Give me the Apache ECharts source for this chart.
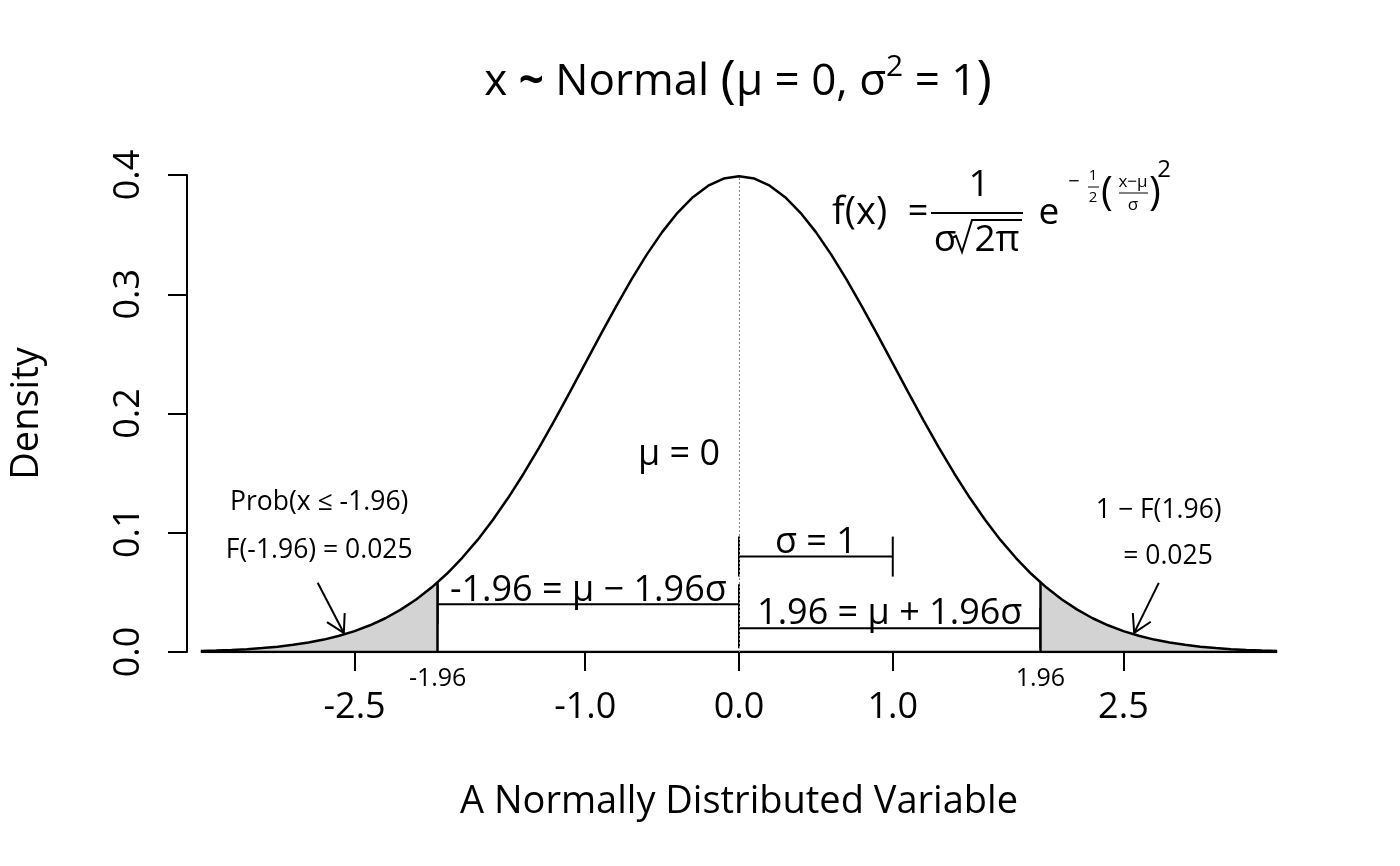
<!DOCTYPE html>
<html>
<head>
  <meta charset="utf-8">
</head>
<body style="margin: 0; background: #fff">
  <div id="container" style="width: 1400px; height: 866px"></div>

  <script type="text/javascript" src="https://cdn.jsdelivr.net/npm/echarts@6/dist/echarts.min.js"></script>
  <script type="text/javascript">
    // curve, x step 0.1
    var xValues = [
      -3.5, -3.4, -3.3, -3.2, -3.1, -3.0, -2.9, -2.8, -2.7, -2.6,
      -2.5, -2.4, -2.3, -2.2, -2.1, -2.0, -1.9, -1.8, -1.7, -1.6,
      -1.5, -1.4, -1.3, -1.2, -1.1, -1.0, -0.9, -0.8, -0.7, -0.6,
      -0.5, -0.4, -0.3, -0.2, -0.1, 0.0, 0.1, 0.2, 0.3, 0.4,
      0.5, 0.6, 0.7, 0.8, 0.9, 1.0, 1.1, 1.2, 1.3, 1.4,
      1.5, 1.6, 1.7, 1.8, 1.9, 2.0, 2.1, 2.2, 2.3, 2.4,
      2.5, 2.6, 2.7, 2.8, 2.9, 3.0, 3.1, 3.2, 3.3, 3.4, 3.5
    ];
    var densityValues = [
      0.0009, 0.0012, 0.0017, 0.0024, 0.0033, 0.0044, 0.0060, 0.0079, 0.0104, 0.0136,
      0.0175, 0.0224, 0.0283, 0.0355, 0.0440, 0.0540, 0.0656, 0.0790, 0.0940, 0.1109,
      0.1295, 0.1497, 0.1714, 0.1942, 0.2179, 0.2420, 0.2661, 0.2897, 0.3123, 0.3332,
      0.3521, 0.3683, 0.3814, 0.3910, 0.3970, 0.3989, 0.3970, 0.3910, 0.3814, 0.3683,
      0.3521, 0.3332, 0.3123, 0.2897, 0.2661, 0.2420, 0.2179, 0.1942, 0.1714, 0.1497,
      0.1295, 0.1109, 0.0940, 0.0790, 0.0656, 0.0540, 0.0440, 0.0355, 0.0283, 0.0224,
      0.0175, 0.0136, 0.0104, 0.0079, 0.0060, 0.0044, 0.0033, 0.0024, 0.0017, 0.0012, 0.0009
    ];
    var critX = [-1.96, 1.96];
    var critDensity = 0.0584;
    var peakDensity = 0.3989;

    var xTickValues = [-2.5, -1.0, 0.0, 1.0, 2.5];
    var xMinorLabels = [-1.96, 1.96];

    // brackets: [from, to, height]
    var brackets = [[0, 1, 0.08], [-1.96, 0, 0.04], [0, 1.96, 0.02]];
    var bracketLabels = ['σ = 1', '-1.96 = μ − 1.96σ', '1.96 = μ + 1.96σ'];

    // arrows: [x0, y0, x1, y1]
    var arrows = [[-2.74, 0.058, -2.57, 0.016], [2.73, 0.058, 2.57, 0.016]];

    // notes: [x, y, text, fontSize]
    var notes = [
      [-0.39, 0.165, 'μ = 0', 36],
      [-2.73, 0.125, 'Prob(x ≤ -1.96)', 26.5],
      [-2.73, 0.085, 'F(-1.96) = 0.025', 26.5],
      [2.73, 0.119, '1 − F(1.96)', 26.5],
      [2.79, 0.080, '= 0.025', 26.5]
    ];

    var FONT = '"Open Sans", "DejaVu Sans", sans-serif';

    var curve = xValues.map(function (x, i) { return [x, densityValues[i]]; });
    var leftTail = curve.filter(function (p) { return p[0] <= critX[0]; });
    leftTail.push([critX[0], critDensity]);
    var rightTail = [[critX[1], critDensity]].concat(curve.filter(function (p) { return p[0] >= critX[1]; }));

    var dom = document.getElementById('container');
    var myChart = echarts.init(dom, null, { renderer: 'canvas' });

    function renderBracket(params, api) {
      var a = api.coord([api.value(0), api.value(2)]);
      var b = api.coord([api.value(1), api.value(2)]);
      var h = 20;
      var st = { stroke: '#000', lineWidth: 2 };
      return {
        type: 'group',
        children: [
          { type: 'line', shape: { x1: a[0], y1: a[1], x2: b[0], y2: b[1] }, style: st },
          { type: 'line', shape: { x1: a[0], y1: a[1] - h, x2: a[0], y2: a[1] + h }, style: st },
          { type: 'line', shape: { x1: b[0], y1: b[1] - h, x2: b[0], y2: b[1] + h }, style: st },
          {
            type: 'text',
            style: {
              text: bracketLabels[params.dataIndex],
              x: (a[0] + b[0]) / 2, y: a[1] - 14,
              align: 'center', verticalAlign: 'middle',
              fontSize: 36, fontFamily: FONT, fill: '#000'
            }
          }
        ]
      };
    }

    function renderArrow(params, api) {
      var p0 = api.coord([api.value(0), api.value(1)]);
      var p1 = api.coord([api.value(2), api.value(3)]);
      var ang = Math.atan2(p1[1] - p0[1], p1[0] - p0[0]);
      var len = 20, spread = Math.PI / 6;
      var h1 = [p1[0] - len * Math.cos(ang - spread), p1[1] - len * Math.sin(ang - spread)];
      var h2 = [p1[0] - len * Math.cos(ang + spread), p1[1] - len * Math.sin(ang + spread)];
      var st = { stroke: '#000', lineWidth: 2, fill: null };
      return {
        type: 'group',
        children: [
          { type: 'line', shape: { x1: p0[0], y1: p0[1], x2: p1[0], y2: p1[1] }, style: st },
          { type: 'polyline', shape: { points: [h1, p1, h2] }, style: st }
        ]
      };
    }

    var option = {
      animation: false,
      backgroundColor: '#fff',
      textStyle: { fontFamily: FONT },
      grid: { left: 185, right: 109, top: 175, bottom: 214 },
      xAxis: [
        {
          type: 'value',
          min: -3.59,
          max: 3.59,
          position: 'bottom',
          name: 'A Normally Distributed Variable',
          nameLocation: 'middle',
          nameGap: 131,
          nameTextStyle: { fontSize: 38, color: '#000', fontFamily: FONT },
          axisLine: { show: false },
          splitLine: { show: false },
          axisTick: {
            show: true,
            customValues: xTickValues,
            length: 19,
            lineStyle: { color: '#000', width: 2 }
          },
          axisLabel: {
            customValues: xTickValues,
            formatter: function (v) { return v.toFixed(1); },
            fontSize: 36,
            margin: 38,
            color: '#000',
            fontFamily: FONT
          }
        },
        {
          type: 'value',
          min: -3.59,
          max: 3.59,
          position: 'bottom',
          axisLine: { show: false },
          splitLine: { show: false },
          axisTick: { show: false },
          axisLabel: {
            customValues: xMinorLabels,
            formatter: function (v) { return v.toFixed(2); },
            fontSize: 25,
            margin: 14,
            color: '#000',
            fontFamily: FONT
          }
        }
      ],
      yAxis: {
        type: 'value',
        min: 0,
        max: 0.4,
        interval: 0.1,
        name: 'Density',
        nameLocation: 'middle',
        nameGap: 141,
        nameRotate: 90,
        nameTextStyle: { fontSize: 38, color: '#000', fontFamily: FONT },
        splitLine: { show: false },
        axisLine: { show: true, onZero: false, lineStyle: { color: '#000', width: 2 } },
        axisTick: { show: true, length: 19, lineStyle: { color: '#000', width: 2 } },
        axisLabel: {
          rotate: 90,
          formatter: function (v) { return v.toFixed(1); },
          fontSize: 36,
          margin: 40,
          color: '#000',
          fontFamily: FONT
        }
      },
      series: [
        {
          type: 'line', data: leftTail, symbol: 'none', silent: true,
          lineStyle: { width: 0 }, areaStyle: { color: '#d3d3d3', opacity: 1 }
        },
        {
          type: 'line', data: rightTail, symbol: 'none', silent: true,
          lineStyle: { width: 0 }, areaStyle: { color: '#d3d3d3', opacity: 1 }
        },
        {
          type: 'line',
          data: curve,
          symbol: 'none',
          silent: true,
          lineStyle: { color: '#000', width: 2.5 },
          markLine: {
            silent: true,
            symbol: 'none',
            label: { show: false },
            data: [
              [{ coord: [0, 0], lineStyle: { color: '#888', width: 1, type: [2, 2] } }, { coord: [0, peakDensity] }],
              [{ coord: [critX[0], 0], lineStyle: { color: '#000', width: 2.5, type: 'solid' } }, { coord: [critX[0], critDensity] }],
              [{ coord: [critX[1], 0], lineStyle: { color: '#000', width: 2.5, type: 'solid' } }, { coord: [critX[1], critDensity] }]
            ]
          }
        },
        {
          type: 'line',
          data: [[xValues[0], 0], [xValues[xValues.length - 1], 0]],
          symbol: 'none',
          silent: true,
          lineStyle: { color: '#000', width: 2.5 }
        },
        {
          type: 'custom',
          data: brackets,
          encode: { x: [0, 1], y: 2 },
          renderItem: renderBracket,
          silent: true
        },
        {
          type: 'custom',
          data: arrows,
          encode: { x: [0, 2], y: [1, 3] },
          renderItem: renderArrow,
          silent: true
        }
      ]
    };
    myChart.setOption(option);

    // text notes anchored to data coordinates
    var graphics = notes.map(function (n) {
      var p = myChart.convertToPixel({ gridIndex: 0 }, [n[0], n[1]]);
      return {
        type: 'text', x: p[0], y: p[1], silent: true,
        style: { text: n[2], align: 'center', verticalAlign: 'middle', fontSize: n[3], fontFamily: FONT, fill: '#000' }
      };
    });

    // title
    graphics.push({
      type: 'text', x: 738, y: 82, silent: true,
      style: {
        text: '{m|x }{t|~}{m| Normal }{p|(}{m|μ = 0, σ}{s|2}{m| = 1}{p|)}',
        align: 'center', verticalAlign: 'middle',
        rich: {
          m: { fontSize: 44, fontFamily: FONT, fill: '#000', lineHeight: 60 },
          t: { fontSize: 44, fontFamily: FONT, fontWeight: 'bold', fill: '#000', lineHeight: 60 },
          p: { fontSize: 52, fontFamily: FONT, fill: '#000', lineHeight: 60 },
          s: { fontSize: 30, fontFamily: FONT, fill: '#000', lineHeight: 30, verticalAlign: 'top' }
        }
      }
    });

    // density formula
    function txt(x, y, s, size, align) {
      return {
        type: 'text', x: x, y: y, silent: true,
        style: { text: s, align: align || 'center', verticalAlign: 'middle', fontSize: size, fontFamily: FONT, fill: '#000' }
      };
    }
    function seg(x1, y1, x2, y2, w) {
      return { type: 'line', silent: true, shape: { x1: x1, y1: y1, x2: x2, y2: y2 }, style: { stroke: '#000', lineWidth: w } };
    }
    graphics.push(
      txt(832, 213, 'f(x)', 38, 'left'),
      txt(918, 213, '=', 36),
      seg(931, 213, 1023, 213, 2),
      txt(979, 185, '1', 37),
      txt(945, 240, 'σ', 37),
      {
        type: 'polyline', silent: true,
        shape: { points: [[952, 238], [956, 236], [962, 252], [972, 220], [1022, 220]] },
        style: { stroke: '#000', lineWidth: 2, fill: null }
      },
      txt(997, 240, '2π', 37),
      txt(1049, 213, 'e', 37),
      txt(1074, 182, '−', 20),
      txt(1093, 176, '1', 15),
      seg(1088, 187, 1099, 187, 1),
      txt(1093, 198, '2', 15),
      txt(1107, 194, '(', 40),
      txt(1133, 182, 'x−μ', 17),
      seg(1119, 193, 1148, 193, 1),
      txt(1133, 205, 'σ', 17),
      txt(1155, 194, ')', 40),
      txt(1164, 170, '2', 24)
    );

    myChart.setOption({ graphic: graphics });

    window.addEventListener('resize', myChart.resize);
  </script>
</body>
</html>
